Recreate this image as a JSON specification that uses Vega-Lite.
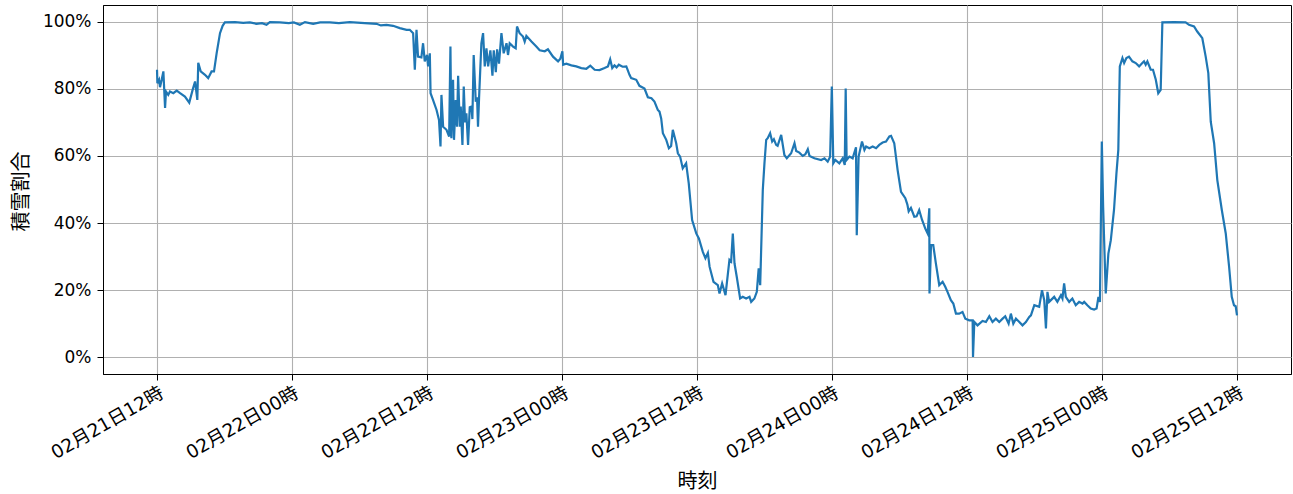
{
  "$schema": "https://vega.github.io/schema/vega-lite/v6.json",
  "autosize": {"type": "none"},
  "width": 1188,
  "height": 369,
  "padding": {"left": 103, "top": 5, "right": 2, "bottom": 120},
  "background": "white",
  "config": {
    "font": "Noto Sans CJK JP",
    "view": {"stroke": "black", "strokeWidth": 1},
    "axis": {
      "labelFont": "DejaVu Sans, Noto Sans CJK JP",
      "titleFont": "Noto Sans CJK JP",
      "labelFontSize": 17,
      "titleFontSize": 20,
      "titleFontWeight": "normal",
      "labelColor": "black",
      "titleColor": "black",
      "domainColor": "black",
      "tickColor": "black",
      "tickSize": 6,
      "gridColor": "#b0b0b0",
      "gridWidth": 1.1,
      "gridOpacity": 1
    }
  },
  "data": {
    "values": [
      {"t": "2024-02-21T12:00", "v": 85.7},
      {"t": "2024-02-21T12:02", "v": 81.7},
      {"t": "2024-02-21T12:11", "v": 82.7},
      {"t": "2024-02-21T12:16", "v": 80.5},
      {"t": "2024-02-21T12:25", "v": 82.7},
      {"t": "2024-02-21T12:34", "v": 85.2},
      {"t": "2024-02-21T12:43", "v": 74.3},
      {"t": "2024-02-21T12:48", "v": 79.2},
      {"t": "2024-02-21T13:00", "v": 78.2},
      {"t": "2024-02-21T13:09", "v": 79.2},
      {"t": "2024-02-21T13:27", "v": 78.7},
      {"t": "2024-02-21T13:45", "v": 79.5},
      {"t": "2024-02-21T14:03", "v": 78.7},
      {"t": "2024-02-21T14:29", "v": 77.7},
      {"t": "2024-02-21T14:52", "v": 75.9},
      {"t": "2024-02-21T15:10", "v": 79.7},
      {"t": "2024-02-21T15:23", "v": 82.2},
      {"t": "2024-02-21T15:35", "v": 76.7},
      {"t": "2024-02-21T15:40", "v": 87.8},
      {"t": "2024-02-21T15:53", "v": 85.2},
      {"t": "2024-02-21T16:16", "v": 84.2},
      {"t": "2024-02-21T16:33", "v": 83.2},
      {"t": "2024-02-21T16:51", "v": 85.2},
      {"t": "2024-02-21T17:04", "v": 85.2},
      {"t": "2024-02-21T17:18", "v": 90.6},
      {"t": "2024-02-21T17:36", "v": 96.6},
      {"t": "2024-02-21T17:50", "v": 98.8},
      {"t": "2024-02-21T18:02", "v": 99.8},
      {"t": "2024-02-21T18:56", "v": 99.9},
      {"t": "2024-02-21T19:40", "v": 99.7},
      {"t": "2024-02-21T20:15", "v": 99.8},
      {"t": "2024-02-21T20:50", "v": 99.4},
      {"t": "2024-02-21T21:20", "v": 99.6},
      {"t": "2024-02-21T21:44", "v": 99.1},
      {"t": "2024-02-21T22:02", "v": 99.9},
      {"t": "2024-02-21T22:55", "v": 99.8},
      {"t": "2024-02-21T23:43", "v": 99.6},
      {"t": "2024-02-22T00:10", "v": 99.8},
      {"t": "2024-02-22T00:42", "v": 99.1},
      {"t": "2024-02-22T01:09", "v": 99.9},
      {"t": "2024-02-22T01:53", "v": 99.4},
      {"t": "2024-02-22T02:30", "v": 99.8},
      {"t": "2024-02-22T03:22", "v": 99.8},
      {"t": "2024-02-22T04:10", "v": 99.6},
      {"t": "2024-02-22T05:08", "v": 99.9},
      {"t": "2024-02-22T06:28", "v": 99.6},
      {"t": "2024-02-22T07:31", "v": 99.4},
      {"t": "2024-02-22T07:54", "v": 98.9},
      {"t": "2024-02-22T08:24", "v": 99.1},
      {"t": "2024-02-22T08:59", "v": 98.8},
      {"t": "2024-02-22T09:35", "v": 98.1},
      {"t": "2024-02-22T10:11", "v": 97.6},
      {"t": "2024-02-22T10:28", "v": 97.6},
      {"t": "2024-02-22T10:46", "v": 96.6},
      {"t": "2024-02-22T10:55", "v": 85.7},
      {"t": "2024-02-22T11:04", "v": 97.6},
      {"t": "2024-02-22T11:12", "v": 89.6},
      {"t": "2024-02-22T11:30", "v": 89.4},
      {"t": "2024-02-22T11:39", "v": 93.6},
      {"t": "2024-02-22T11:48", "v": 88.2},
      {"t": "2024-02-22T12:00", "v": 90.1},
      {"t": "2024-02-22T12:06", "v": 86.7},
      {"t": "2024-02-22T12:15", "v": 90.6},
      {"t": "2024-02-22T12:19", "v": 78.7},
      {"t": "2024-02-22T12:32", "v": 76.7},
      {"t": "2024-02-22T12:51", "v": 73.7},
      {"t": "2024-02-22T13:04", "v": 70.7},
      {"t": "2024-02-22T13:12", "v": 62.8},
      {"t": "2024-02-22T13:17", "v": 78.2},
      {"t": "2024-02-22T13:26", "v": 68.7},
      {"t": "2024-02-22T13:44", "v": 67.8},
      {"t": "2024-02-22T13:58", "v": 65.8},
      {"t": "2024-02-22T14:05", "v": 92.6},
      {"t": "2024-02-22T14:10", "v": 65.3},
      {"t": "2024-02-22T14:19", "v": 82.7},
      {"t": "2024-02-22T14:24", "v": 64.8},
      {"t": "2024-02-22T14:33", "v": 76.7},
      {"t": "2024-02-22T14:40", "v": 68.7},
      {"t": "2024-02-22T14:46", "v": 83.9},
      {"t": "2024-02-22T14:55", "v": 68.7},
      {"t": "2024-02-22T15:00", "v": 74.7},
      {"t": "2024-02-22T15:09", "v": 63.3},
      {"t": "2024-02-22T15:16", "v": 80.7},
      {"t": "2024-02-22T15:23", "v": 70.0},
      {"t": "2024-02-22T15:30", "v": 72.7},
      {"t": "2024-02-22T15:39", "v": 63.3},
      {"t": "2024-02-22T15:48", "v": 74.5},
      {"t": "2024-02-22T15:57", "v": 74.7},
      {"t": "2024-02-22T16:02", "v": 71.0},
      {"t": "2024-02-22T16:09", "v": 90.1},
      {"t": "2024-02-22T16:20", "v": 76.2},
      {"t": "2024-02-22T16:27", "v": 77.5},
      {"t": "2024-02-22T16:32", "v": 68.7},
      {"t": "2024-02-22T16:38", "v": 77.7},
      {"t": "2024-02-22T16:50", "v": 93.6},
      {"t": "2024-02-22T16:59", "v": 96.6},
      {"t": "2024-02-22T17:08", "v": 86.7},
      {"t": "2024-02-22T17:17", "v": 92.1},
      {"t": "2024-02-22T17:26", "v": 86.7},
      {"t": "2024-02-22T17:38", "v": 91.5},
      {"t": "2024-02-22T17:49", "v": 83.9},
      {"t": "2024-02-22T17:56", "v": 91.5},
      {"t": "2024-02-22T18:07", "v": 85.0},
      {"t": "2024-02-22T18:14", "v": 91.8},
      {"t": "2024-02-22T18:24", "v": 87.5},
      {"t": "2024-02-22T18:37", "v": 96.6},
      {"t": "2024-02-22T18:49", "v": 90.6},
      {"t": "2024-02-22T19:04", "v": 93.6},
      {"t": "2024-02-22T19:12", "v": 90.1},
      {"t": "2024-02-22T19:21", "v": 93.6},
      {"t": "2024-02-22T19:39", "v": 92.6},
      {"t": "2024-02-22T19:53", "v": 92.1},
      {"t": "2024-02-22T20:00", "v": 98.6},
      {"t": "2024-02-22T20:14", "v": 96.6},
      {"t": "2024-02-22T20:32", "v": 95.6},
      {"t": "2024-02-22T20:41", "v": 94.1},
      {"t": "2024-02-22T20:50", "v": 95.8},
      {"t": "2024-02-22T21:17", "v": 94.1},
      {"t": "2024-02-22T21:43", "v": 92.6},
      {"t": "2024-02-22T22:01", "v": 91.5},
      {"t": "2024-02-22T22:28", "v": 91.2},
      {"t": "2024-02-22T22:45", "v": 91.8},
      {"t": "2024-02-22T23:12", "v": 89.6},
      {"t": "2024-02-22T23:39", "v": 88.2},
      {"t": "2024-02-22T23:51", "v": 89.0},
      {"t": "2024-02-23T00:02", "v": 91.2},
      {"t": "2024-02-23T00:06", "v": 87.2},
      {"t": "2024-02-23T00:23", "v": 87.5},
      {"t": "2024-02-23T00:50", "v": 87.0},
      {"t": "2024-02-23T01:16", "v": 86.7},
      {"t": "2024-02-23T01:43", "v": 86.2},
      {"t": "2024-02-23T02:10", "v": 86.0},
      {"t": "2024-02-23T02:31", "v": 86.9},
      {"t": "2024-02-23T02:54", "v": 85.7},
      {"t": "2024-02-23T03:20", "v": 85.6},
      {"t": "2024-02-23T03:47", "v": 86.2},
      {"t": "2024-02-23T04:05", "v": 86.7},
      {"t": "2024-02-23T04:17", "v": 88.8},
      {"t": "2024-02-23T04:28", "v": 86.2},
      {"t": "2024-02-23T04:40", "v": 87.0},
      {"t": "2024-02-23T04:51", "v": 86.4},
      {"t": "2024-02-23T05:03", "v": 87.2},
      {"t": "2024-02-23T05:23", "v": 86.6},
      {"t": "2024-02-23T05:43", "v": 86.7},
      {"t": "2024-02-23T06:00", "v": 84.2},
      {"t": "2024-02-23T06:09", "v": 83.2},
      {"t": "2024-02-23T06:36", "v": 82.7},
      {"t": "2024-02-23T06:53", "v": 80.9},
      {"t": "2024-02-23T07:20", "v": 80.1},
      {"t": "2024-02-23T07:38", "v": 77.5},
      {"t": "2024-02-23T07:57", "v": 77.2},
      {"t": "2024-02-23T08:13", "v": 76.2},
      {"t": "2024-02-23T08:31", "v": 73.7},
      {"t": "2024-02-23T08:40", "v": 73.2},
      {"t": "2024-02-23T08:49", "v": 71.2},
      {"t": "2024-02-23T08:58", "v": 66.8},
      {"t": "2024-02-23T09:16", "v": 64.8},
      {"t": "2024-02-23T09:30", "v": 62.3},
      {"t": "2024-02-23T09:42", "v": 63.0},
      {"t": "2024-02-23T09:51", "v": 67.8},
      {"t": "2024-02-23T10:09", "v": 63.8},
      {"t": "2024-02-23T10:18", "v": 60.8},
      {"t": "2024-02-23T10:30", "v": 59.8},
      {"t": "2024-02-23T10:44", "v": 56.3},
      {"t": "2024-02-23T11:02", "v": 57.8},
      {"t": "2024-02-23T11:16", "v": 51.8},
      {"t": "2024-02-23T11:34", "v": 40.9},
      {"t": "2024-02-23T11:56", "v": 36.9},
      {"t": "2024-02-23T12:10", "v": 35.4},
      {"t": "2024-02-23T12:31", "v": 31.4},
      {"t": "2024-02-23T12:45", "v": 29.5},
      {"t": "2024-02-23T12:58", "v": 31.1},
      {"t": "2024-02-23T13:07", "v": 27.0},
      {"t": "2024-02-23T13:28", "v": 22.5},
      {"t": "2024-02-23T13:51", "v": 21.5},
      {"t": "2024-02-23T14:00", "v": 19.0},
      {"t": "2024-02-23T14:14", "v": 22.0},
      {"t": "2024-02-23T14:32", "v": 18.5},
      {"t": "2024-02-23T14:53", "v": 29.0},
      {"t": "2024-02-23T15:02", "v": 28.5},
      {"t": "2024-02-23T15:11", "v": 36.9},
      {"t": "2024-02-23T15:20", "v": 28.0},
      {"t": "2024-02-23T15:32", "v": 24.0},
      {"t": "2024-02-23T15:50", "v": 17.5},
      {"t": "2024-02-23T16:04", "v": 18.0},
      {"t": "2024-02-23T16:22", "v": 17.5},
      {"t": "2024-02-23T16:40", "v": 18.0},
      {"t": "2024-02-23T16:49", "v": 16.5},
      {"t": "2024-02-23T17:06", "v": 17.5},
      {"t": "2024-02-23T17:19", "v": 19.5},
      {"t": "2024-02-23T17:29", "v": 26.5},
      {"t": "2024-02-23T17:37", "v": 21.5},
      {"t": "2024-02-23T17:51", "v": 50.0},
      {"t": "2024-02-23T18:00", "v": 58.0},
      {"t": "2024-02-23T18:09", "v": 64.8},
      {"t": "2024-02-23T18:17", "v": 65.3},
      {"t": "2024-02-23T18:30", "v": 66.8},
      {"t": "2024-02-23T18:41", "v": 64.3},
      {"t": "2024-02-23T18:50", "v": 65.0},
      {"t": "2024-02-23T19:02", "v": 63.3},
      {"t": "2024-02-23T19:10", "v": 63.0},
      {"t": "2024-02-23T19:29", "v": 66.3},
      {"t": "2024-02-23T19:46", "v": 60.3},
      {"t": "2024-02-23T19:59", "v": 59.3},
      {"t": "2024-02-23T20:22", "v": 60.8},
      {"t": "2024-02-23T20:40", "v": 63.8},
      {"t": "2024-02-23T20:49", "v": 61.5},
      {"t": "2024-02-23T21:06", "v": 61.0},
      {"t": "2024-02-23T21:24", "v": 60.0},
      {"t": "2024-02-23T21:38", "v": 60.5},
      {"t": "2024-02-23T21:51", "v": 62.0},
      {"t": "2024-02-23T22:00", "v": 60.0},
      {"t": "2024-02-23T22:26", "v": 59.3},
      {"t": "2024-02-23T23:02", "v": 58.8},
      {"t": "2024-02-23T23:20", "v": 59.3},
      {"t": "2024-02-23T23:37", "v": 58.3},
      {"t": "2024-02-23T23:50", "v": 59.8},
      {"t": "2024-02-23T23:59", "v": 80.7},
      {"t": "2024-02-24T00:07", "v": 57.8},
      {"t": "2024-02-24T00:18", "v": 58.8},
      {"t": "2024-02-24T00:39", "v": 57.8},
      {"t": "2024-02-24T00:57", "v": 59.3},
      {"t": "2024-02-24T01:08", "v": 57.3},
      {"t": "2024-02-24T01:13", "v": 80.1},
      {"t": "2024-02-24T01:18", "v": 58.8},
      {"t": "2024-02-24T01:33", "v": 59.8},
      {"t": "2024-02-24T01:50", "v": 59.3},
      {"t": "2024-02-24T02:08", "v": 62.6},
      {"t": "2024-02-24T02:12", "v": 36.4},
      {"t": "2024-02-24T02:22", "v": 59.8},
      {"t": "2024-02-24T02:40", "v": 64.3},
      {"t": "2024-02-24T02:53", "v": 61.8},
      {"t": "2024-02-24T03:02", "v": 62.8},
      {"t": "2024-02-24T03:19", "v": 62.3},
      {"t": "2024-02-24T03:37", "v": 62.8},
      {"t": "2024-02-24T03:55", "v": 62.3},
      {"t": "2024-02-24T04:12", "v": 63.3},
      {"t": "2024-02-24T04:30", "v": 64.0},
      {"t": "2024-02-24T04:48", "v": 64.3},
      {"t": "2024-02-24T05:06", "v": 65.8},
      {"t": "2024-02-24T05:15", "v": 66.0},
      {"t": "2024-02-24T05:32", "v": 63.8},
      {"t": "2024-02-24T05:50", "v": 55.8},
      {"t": "2024-02-24T06:08", "v": 49.3},
      {"t": "2024-02-24T06:31", "v": 47.4},
      {"t": "2024-02-24T06:42", "v": 45.5},
      {"t": "2024-02-24T06:49", "v": 43.5},
      {"t": "2024-02-24T07:01", "v": 44.5},
      {"t": "2024-02-24T07:19", "v": 41.9},
      {"t": "2024-02-24T07:31", "v": 42.0},
      {"t": "2024-02-24T07:45", "v": 43.9},
      {"t": "2024-02-24T08:00", "v": 41.0},
      {"t": "2024-02-24T08:17", "v": 38.4},
      {"t": "2024-02-24T08:30", "v": 36.9},
      {"t": "2024-02-24T08:39", "v": 44.4},
      {"t": "2024-02-24T08:40", "v": 19.0},
      {"t": "2024-02-24T08:48", "v": 33.4},
      {"t": "2024-02-24T09:00", "v": 33.4},
      {"t": "2024-02-24T09:14", "v": 28.0},
      {"t": "2024-02-24T09:32", "v": 21.5},
      {"t": "2024-02-24T09:50", "v": 22.5},
      {"t": "2024-02-24T10:04", "v": 21.0},
      {"t": "2024-02-24T10:16", "v": 19.5},
      {"t": "2024-02-24T10:34", "v": 17.0},
      {"t": "2024-02-24T10:47", "v": 16.0},
      {"t": "2024-02-24T11:01", "v": 13.0},
      {"t": "2024-02-24T11:18", "v": 13.0},
      {"t": "2024-02-24T11:36", "v": 13.5},
      {"t": "2024-02-24T11:51", "v": 11.5},
      {"t": "2024-02-24T12:12", "v": 11.0},
      {"t": "2024-02-24T12:30", "v": 11.0},
      {"t": "2024-02-24T12:32", "v": 0.1},
      {"t": "2024-02-24T12:39", "v": 10.5},
      {"t": "2024-02-24T12:56", "v": 9.5},
      {"t": "2024-02-24T13:23", "v": 10.8},
      {"t": "2024-02-24T13:41", "v": 10.5},
      {"t": "2024-02-24T13:59", "v": 12.2},
      {"t": "2024-02-24T14:16", "v": 10.5},
      {"t": "2024-02-24T14:34", "v": 11.5},
      {"t": "2024-02-24T14:52", "v": 10.5},
      {"t": "2024-02-24T15:10", "v": 11.5},
      {"t": "2024-02-24T15:24", "v": 12.2},
      {"t": "2024-02-24T15:42", "v": 10.0},
      {"t": "2024-02-24T15:54", "v": 13.0},
      {"t": "2024-02-24T16:07", "v": 10.0},
      {"t": "2024-02-24T16:21", "v": 11.5},
      {"t": "2024-02-24T16:39", "v": 10.5},
      {"t": "2024-02-24T16:56", "v": 9.5},
      {"t": "2024-02-24T17:14", "v": 10.5},
      {"t": "2024-02-24T17:32", "v": 12.0},
      {"t": "2024-02-24T17:41", "v": 12.5},
      {"t": "2024-02-24T17:59", "v": 15.5},
      {"t": "2024-02-24T18:25", "v": 15.0},
      {"t": "2024-02-24T18:40", "v": 20.0},
      {"t": "2024-02-24T18:52", "v": 17.0},
      {"t": "2024-02-24T19:01", "v": 8.6},
      {"t": "2024-02-24T19:09", "v": 19.5},
      {"t": "2024-02-24T19:18", "v": 16.5},
      {"t": "2024-02-24T19:45", "v": 18.0},
      {"t": "2024-02-24T20:02", "v": 16.5},
      {"t": "2024-02-24T20:21", "v": 18.5},
      {"t": "2024-02-24T20:29", "v": 17.5},
      {"t": "2024-02-24T20:38", "v": 22.0},
      {"t": "2024-02-24T20:47", "v": 18.0},
      {"t": "2024-02-24T21:05", "v": 16.5},
      {"t": "2024-02-24T21:22", "v": 17.5},
      {"t": "2024-02-24T21:40", "v": 15.5},
      {"t": "2024-02-24T21:58", "v": 16.5},
      {"t": "2024-02-24T22:16", "v": 16.0},
      {"t": "2024-02-24T22:25", "v": 16.5},
      {"t": "2024-02-24T22:42", "v": 15.5},
      {"t": "2024-02-24T23:00", "v": 14.5},
      {"t": "2024-02-24T23:18", "v": 14.2},
      {"t": "2024-02-24T23:31", "v": 14.5},
      {"t": "2024-02-24T23:41", "v": 18.0},
      {"t": "2024-02-24T23:49", "v": 16.5},
      {"t": "2024-02-24T23:59", "v": 64.3},
      {"t": "2024-02-25T00:06", "v": 45.0},
      {"t": "2024-02-25T00:20", "v": 19.0},
      {"t": "2024-02-25T00:34", "v": 30.9},
      {"t": "2024-02-25T00:47", "v": 34.9},
      {"t": "2024-02-25T01:04", "v": 43.9},
      {"t": "2024-02-25T01:17", "v": 54.8},
      {"t": "2024-02-25T01:27", "v": 61.8},
      {"t": "2024-02-25T01:35", "v": 86.7},
      {"t": "2024-02-25T01:49", "v": 89.2},
      {"t": "2024-02-25T01:58", "v": 87.7},
      {"t": "2024-02-25T02:10", "v": 89.2},
      {"t": "2024-02-25T02:24", "v": 89.6},
      {"t": "2024-02-25T02:42", "v": 88.2},
      {"t": "2024-02-25T03:00", "v": 87.7},
      {"t": "2024-02-25T03:18", "v": 86.7},
      {"t": "2024-02-25T03:35", "v": 87.7},
      {"t": "2024-02-25T03:44", "v": 88.2},
      {"t": "2024-02-25T03:53", "v": 87.2},
      {"t": "2024-02-25T04:02", "v": 88.2},
      {"t": "2024-02-25T04:20", "v": 85.7},
      {"t": "2024-02-25T04:32", "v": 85.7},
      {"t": "2024-02-25T04:47", "v": 82.7},
      {"t": "2024-02-25T05:00", "v": 78.7},
      {"t": "2024-02-25T05:13", "v": 79.7},
      {"t": "2024-02-25T05:22", "v": 99.8},
      {"t": "2024-02-25T06:24", "v": 99.9},
      {"t": "2024-02-25T07:26", "v": 99.8},
      {"t": "2024-02-25T07:44", "v": 99.1},
      {"t": "2024-02-25T08:11", "v": 98.6},
      {"t": "2024-02-25T08:28", "v": 97.1},
      {"t": "2024-02-25T08:55", "v": 95.1},
      {"t": "2024-02-25T09:13", "v": 89.6},
      {"t": "2024-02-25T09:27", "v": 84.7},
      {"t": "2024-02-25T09:40", "v": 70.2},
      {"t": "2024-02-25T09:58", "v": 63.8},
      {"t": "2024-02-25T10:15", "v": 52.8},
      {"t": "2024-02-25T10:39", "v": 43.9},
      {"t": "2024-02-25T11:00", "v": 36.9},
      {"t": "2024-02-25T11:18", "v": 26.9},
      {"t": "2024-02-25T11:32", "v": 18.0},
      {"t": "2024-02-25T11:44", "v": 15.5},
      {"t": "2024-02-25T11:53", "v": 15.2},
      {"t": "2024-02-25T12:00", "v": 12.5}
    ]
  },
  "mark": {"type": "line", "color": "#1f77b4", "strokeWidth": 2.2, "clip": true},
  "encoding": {
    "x": {
      "field": "t",
      "type": "temporal",
      "title": "時刻",
      "scale": {
        "domain": [
          {"year": 2024, "month": 2, "date": 21, "hours": 7, "minutes": 12},
          {"year": 2024, "month": 2, "date": 25, "hours": 16, "minutes": 48}
        ],
        "nice": false
      },
      "axis": {
        "values": [
          {"year": 2024, "month": 2, "date": 21, "hours": 12},
          {"year": 2024, "month": 2, "date": 22, "hours": 0},
          {"year": 2024, "month": 2, "date": 22, "hours": 12},
          {"year": 2024, "month": 2, "date": 23, "hours": 0},
          {"year": 2024, "month": 2, "date": 23, "hours": 12},
          {"year": 2024, "month": 2, "date": 24, "hours": 0},
          {"year": 2024, "month": 2, "date": 24, "hours": 12},
          {"year": 2024, "month": 2, "date": 25, "hours": 0},
          {"year": 2024, "month": 2, "date": 25, "hours": 12}
        ],
        "format": "%m月%d日%H時",
        "labelFontSize": 18.5,
        "labelAngle": -30,
        "labelAlign": "right",
        "labelBaseline": "top",
        "labelPadding": 3,
        "labelOverlap": false,
        "labelFlush": false,
        "titleX": 594,
        "titleY": 107,
        "titleAnchor": null,
        "titleAlign": "center",
        "titleBaseline": "middle"
      }
    },
    "y": {
      "field": "v",
      "type": "quantitative",
      "title": "積雪割合",
      "scale": {"domain": [-5, 105], "nice": false, "zero": false},
      "axis": {
        "values": [0, 20, 40, 60, 80, 100],
        "labelExpr": "datum.value + '%'",
        "labelPadding": 6,
        "titleX": -82,
        "titleY": 186,
        "titleAngle": -90,
        "titleAlign": "center",
        "titleBaseline": "middle"
      }
    }
  }
}
